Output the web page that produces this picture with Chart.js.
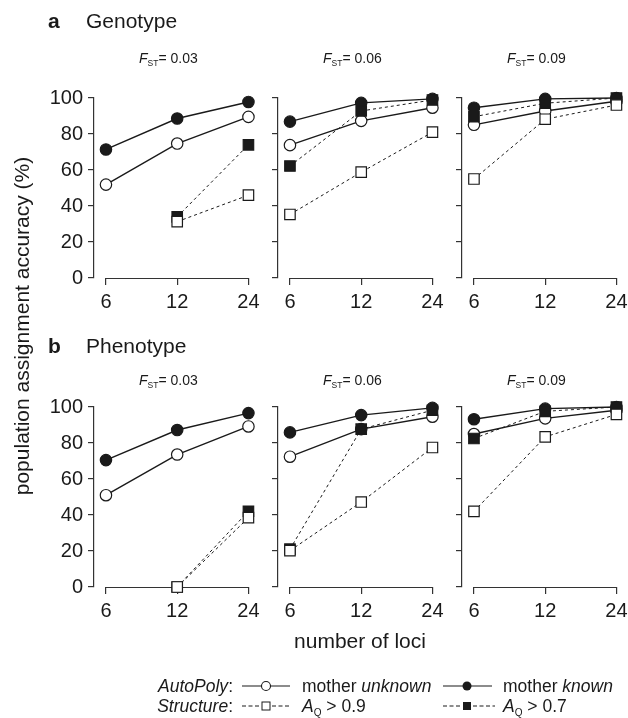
<!DOCTYPE html>
<html>
<head>
<meta charset="utf-8">
<script src="https://cdn.jsdelivr.net/npm/chart.js@4.4.1/dist/chart.umd.min.js"></script>
<style>
  body { margin: 0; background: #fff; }
  #fig { position: relative; width: 628px; height: 718px; background: #fff; overflow: hidden; }
  #fig canvas { position: absolute; }
  #labels { position: absolute; left: 0; top: 0; pointer-events: none; }
  #labels text { font-family: 'Liberation Sans', Arial, sans-serif; fill: #1a1a1a; }
</style>
</head>
<body>
<div id="fig">
  <canvas id="a0" width="245" height="237"></canvas>
  <canvas id="a1" width="245" height="237"></canvas>
  <canvas id="a2" width="245" height="237"></canvas>
  <canvas id="b0" width="245" height="237"></canvas>
  <canvas id="b1" width="245" height="237"></canvas>
  <canvas id="b2" width="245" height="237"></canvas>

  <svg id="labels" width="628" height="718">
    <text x="48" y="28" font-size="21" font-weight="bold">a</text>
    <text x="86" y="28" font-size="21">Genotype</text>
    <text x="48" y="353" font-size="21" font-weight="bold">b</text>
    <text x="86" y="353" font-size="21">Phenotype</text>

    <g id="fstTitles"></g>

    <text x="360" y="648" font-size="21" text-anchor="middle">number of loci</text>
    <text transform="translate(29,326) rotate(-90)" font-size="21" text-anchor="middle">population assignment accuracy (%)</text>

    <!-- legend -->
    <text x="233" y="692" font-size="17.5" text-anchor="end"><tspan font-style="italic">AutoPoly</tspan>:</text>
    <line x1="242" y1="686" x2="290" y2="686" stroke="#1a1a1a" stroke-width="1.2"/>
    <circle cx="266" cy="686" r="4.5" fill="#fff" stroke="#1a1a1a" stroke-width="1.1"/>
    <text x="302" y="692" font-size="17.5">mother <tspan font-style="italic">unknown</tspan></text>
    <line x1="443" y1="686" x2="492" y2="686" stroke="#1a1a1a" stroke-width="1.2"/>
    <circle cx="467" cy="686" r="4.5" fill="#1a1a1a"/>
    <text x="503" y="692" font-size="17.5">mother <tspan font-style="italic">known</tspan></text>

    <text x="233" y="712" font-size="17.5" text-anchor="end"><tspan font-style="italic">Structure</tspan>:</text>
    <line x1="242" y1="706" x2="261" y2="706" stroke="#1a1a1a" stroke-width="1" stroke-dasharray="4,2.5"/>
    <rect x="262" y="702" width="8" height="8" fill="#fff" stroke="#1a1a1a" stroke-width="1"/>
    <line x1="272" y1="706" x2="291" y2="706" stroke="#1a1a1a" stroke-width="1" stroke-dasharray="4,2.5"/>
    <text x="302" y="712" font-size="17.5"><tspan font-style="italic">A</tspan><tspan font-size="10" dy="4">Q</tspan><tspan dy="-4"> &gt; 0.9</tspan></text>
    <line x1="443" y1="706" x2="462" y2="706" stroke="#1a1a1a" stroke-width="1" stroke-dasharray="4,2.5"/>
    <rect x="463" y="702" width="8" height="8" fill="#1a1a1a"/>
    <line x1="473" y1="706" x2="495" y2="706" stroke="#1a1a1a" stroke-width="1" stroke-dasharray="4,2.5"/>
    <text x="503" y="712" font-size="17.5"><tspan font-style="italic">A</tspan><tspan font-size="10" dy="4">Q</tspan><tspan dy="-4"> &gt; 0.7</tspan></text>
  </svg>
</div>

<script>
// number of loci on the x axis, one panel per F_ST value
const loci = [6, 12, 24];
const fstValues = ['0.03', '0.06', '0.09'];
const yTicks = [0, 20, 40, 60, 80, 100];

// a: Genotype  (one inner array per F_ST panel)
const genoKnown   = [[71.4, 88.6, 97.8], [86.9, 97.3, 99.5], [94.6, 99.5, 100]];
const genoUnknown = [[51.9, 74.7, 89.5], [73.8, 87.3, 94.6], [85.1, 92.8, 98.2]];
const genoAQ07    = [[null, 34.0, 74.0], [62.2, 92.8, 98.9], [89.6, 97.1, 100]];
const genoAQ09    = [[null, 31.3, 46.0], [35.3, 58.8, 81.0], [55.0, 88.2, 96.1]];

// b: Phenotype
const phenoKnown   = [[70.5, 87.2, 96.6], [85.9, 95.5, 99.5], [93.2, 99.1, 100]];
const phenoUnknown = [[51.0, 73.6, 89.2], [72.4, 87.7, 94.6], [85.0, 93.7, 98.2]];
const phenoAQ07    = [[null, 0, 42.1], [21.0, 87.7, 98.2], [82.5, 97.6, 100]];
const phenoAQ09    = [[null, 0, 38.5], [20.2, 47.2, 77.5], [42.0, 83.4, 95.9]];

const ink = '#1a1a1a';
const axisInk = '#333';
Chart.defaults.font.family = "'Liberation Sans', Arial, sans-serif";
Chart.defaults.color = ink;

// R style x axis: line only between first and last tick
const xAxisLine = {
    id: 'xAxisLine',
    beforeDatasetsDraw(chart) {
        const xs = chart.scales.x;
        const y = Math.round(chart.chartArea.bottom) + 0.5;
        const ctx = chart.ctx;
        ctx.save();
        ctx.strokeStyle = axisInk;
        ctx.lineWidth = 1.2;
        ctx.beginPath();
        ctx.moveTo(Math.round(xs.getPixelForValue(loci[0])) - 0.1, y);
        ctx.lineTo(Math.round(xs.getPixelForValue(loci[loci.length - 1])) + 1, y);
        ctx.stroke();
        ctx.restore();
    }
};

function series(label, values, opts) {
    return Object.assign({
        label: label,
        data: values.map((v, i) => ({ x: loci[i], y: v })),
        borderColor: ink,
        pointBorderColor: ink,
        pointBorderWidth: 1.2,
        spanGaps: false,
        clip: false,
        tension: 0
    }, opts);
}

const axisX = [94, 278, 462];
const padOct = 12 / 71.5;

function makePanel(id, col, top, known, unknown, aq07, aq09) {
    const cv = document.getElementById(id);
    cv.style.left = (axisX[col] - 70) + 'px';
    cv.style.top = (top - 12) + 'px';

    new Chart(cv.getContext('2d'), {
        type: 'line',
        data: {
            datasets: [
                series('A_Q > 0.9', aq09, {
                    borderWidth: 1, borderDash: [3, 3],
                    pointStyle: 'rect', pointRadius: 7.4, pointBackgroundColor: '#fff'
                }),
                series('A_Q > 0.7', aq07, {
                    borderWidth: 1, borderDash: [3, 3],
                    pointStyle: 'rect', pointRadius: 7.4, pointBackgroundColor: ink
                }),
                series('mother unknown', unknown, {
                    borderWidth: 1.4,
                    pointStyle: 'circle', pointRadius: 5.7, pointBackgroundColor: '#fff'
                }),
                series('mother known', known, {
                    borderWidth: 1.4,
                    pointStyle: 'circle', pointRadius: 5.7, pointBackgroundColor: ink
                })
            ]
        },
        options: {
            responsive: false,
            animation: false,
            layout: { padding: { top: 12, right: 8, left: 0, bottom: 0 } },
            plugins: { legend: { display: false }, tooltip: { enabled: false } },
            scales: {
                x: {
                    type: 'logarithmic',
                    min: loci[0] / Math.pow(2, padOct),
                    max: loci[loci.length - 1] * Math.pow(2, padOct),
                    afterBuildTicks: s => { s.ticks = loci.map(v => ({ value: v })); },
                    afterFit: s => { s.height = 40; },
                    border: { display: false },
                    grid: { drawOnChartArea: false, drawTicks: true, tickLength: 7, color: axisInk, lineWidth: 1.2 },
                    ticks: {
                        callback: v => String(v),
                        font: { size: 20 }, color: ink, padding: 5,
                        maxRotation: 0, autoSkip: false
                    }
                },
                y: {
                    min: 0,
                    max: 100,
                    afterFit: s => { s.width = 70; },
                    border: { display: true, color: axisInk, width: 1.2 },
                    grid: { drawOnChartArea: false, drawTicks: true, tickLength: 6, color: axisInk, lineWidth: 1.2 },
                    ticks: {
                        stepSize: 10,
                        callback: v => (col === 0 && yTicks.includes(v)) ? String(v) : '',
                        font: { size: 20 }, color: ink, padding: 5
                    }
                }
            }
        },
        plugins: [xAxisLine]
    });
}

for (let c = 0; c < 3; c++) {
    makePanel('a' + c, c, 93, genoKnown[c], genoUnknown[c], genoAQ07[c], genoAQ09[c]);
    makePanel('b' + c, c, 402, phenoKnown[c], phenoUnknown[c], phenoAQ07[c], phenoAQ09[c]);
}

// F_ST panel titles
const ns = 'http://www.w3.org/2000/svg';
const g = document.getElementById('fstTitles');
[63, 385].forEach(base => {
    fstValues.forEach((f, c) => {
        const t = document.createElementNS(ns, 'text');
        t.setAttribute('x', 139 + 184 * c);
        t.setAttribute('y', base);
        t.setAttribute('font-size', '14');
        t.innerHTML = '<tspan font-style="italic">F</tspan><tspan font-size="8.5" dy="3">ST</tspan><tspan dy="-3">= ' + f + '</tspan>';
        g.appendChild(t);
    });
});
</script>
</body>
</html>
